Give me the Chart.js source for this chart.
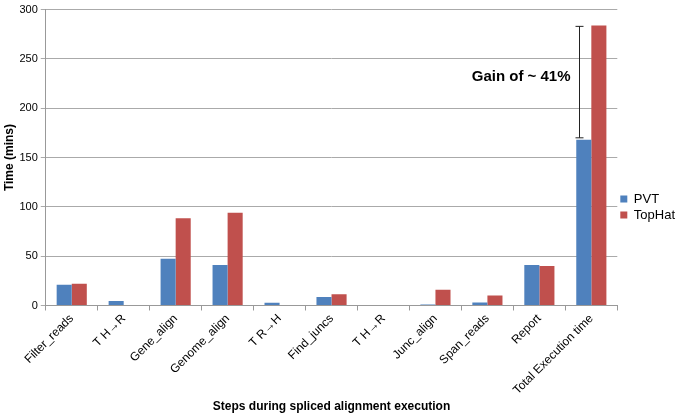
<!DOCTYPE html>
<html><head><meta charset="utf-8">
<script src="https://cdn.jsdelivr.net/npm/chart.js@4"></script>
<style>html,body{margin:0;padding:0;background:#fff}#wrap{width:685px;height:415px}</style>
</head><body><div id="wrap"><canvas id="c"></canvas></div>
<script>
const categories = ["Filter_reads","T H\u2192R","Gene_align","Genome_align","T R\u2192H","Find_juncs","T H\u2192R","Junc_align","Span_reads","Report","Total Execution time"];
const pvt    = [21, 4.5, 47.5, 41, 2.7, 8.5, 0, 1, 3, 41, 168];
const tophat = [22, 0, 88.5, 94, 0, 11.5, 0, 16, 10, 40, 284];
const yTicks = [0, 50, 100, 150, 200, 250, 300];
const gainLabel = "Gain of ~ 41%";
const gainRange = [170, 283];
const gainIndex = 10;
const gainTextY = 232;

const gainPlugin = {
  id: 'gain',
  afterDatasetsDraw(chart) {
    const ctx = chart.ctx, xs = chart.scales.x, ys = chart.scales.y;
    const x = Math.round(xs.getPixelForValue(gainIndex) - 12) + 0.5;
    const y1 = ys.getPixelForValue(gainRange[0]);
    const y2 = ys.getPixelForValue(gainRange[1]);
    ctx.save();
    ctx.strokeStyle = '#222'; ctx.lineWidth = 1;
    ctx.beginPath();
    ctx.moveTo(x, y1); ctx.lineTo(x, y2);
    ctx.moveTo(x - 4, y1); ctx.lineTo(x + 4, y1);
    ctx.moveTo(x - 4, y2); ctx.lineTo(x + 4, y2);
    ctx.stroke();
    ctx.fillStyle = '#000';
    ctx.font = 'bold 15px "Liberation Sans", Arial, sans-serif';
    ctx.textAlign = 'right'; ctx.textBaseline = 'middle';
    ctx.fillText(gainLabel, x - 9, ys.getPixelForValue(gainTextY));
    ctx.restore();
  }
};

Chart.defaults.font.family = '"Liberation Sans", Arial, sans-serif';
Chart.defaults.color = '#000';
new Chart(document.getElementById('c'), {
  type: 'bar',
  data: {
    labels: categories,
    datasets: [
      {label: 'PVT', data: pvt, backgroundColor: '#4F81BD'},
      {label: 'TopHat', data: tophat, backgroundColor: '#C0504D'}
    ]
  },
  options: {
    responsive: true, maintainAspectRatio: false, animation: false,
    devicePixelRatio: 1,
    datasets: {bar: {categoryPercentage: 0.58, barPercentage: 1}},
    layout: {padding: {top: 0, right: 0, left: 2, bottom: 1}},
    plugins: {
      legend: {
        position: 'right',
        labels: {boxWidth: 7, boxHeight: 7, padding: 3, font: {size: 13}, color: '#000'}
      },
      tooltip: {enabled: false}
    },
    scales: {
      x: {
        grid: {display: true, drawOnChartArea: false, offset: true, tickLength: 5, color: '#999'},
        border: {color: '#999'},
        ticks: {maxRotation: 45, minRotation: 45, font: {size: 12}, color: '#000', padding: 1},
        title: {display: true, text: 'Steps during spliced alignment execution', font: {size: 12, weight: 'bold'}, color: '#000', padding: {top: 1, bottom: 0}}
      },
      y: {
        min: 0, max: 300,
        afterBuildTicks(scale) { scale.ticks = yTicks.map(v => ({value: v})); },
        grid: {color: '#aaa', tickLength: 5},
        border: {color: '#999'},
        ticks: {font: {size: 11}, color: '#000', padding: 3},
        title: {display: true, text: 'Time (mins)', font: {size: 12, weight: 'bold'}, color: '#000', padding: 0}
      }
    }
  },
  plugins: [gainPlugin]
});
</script></body></html>
